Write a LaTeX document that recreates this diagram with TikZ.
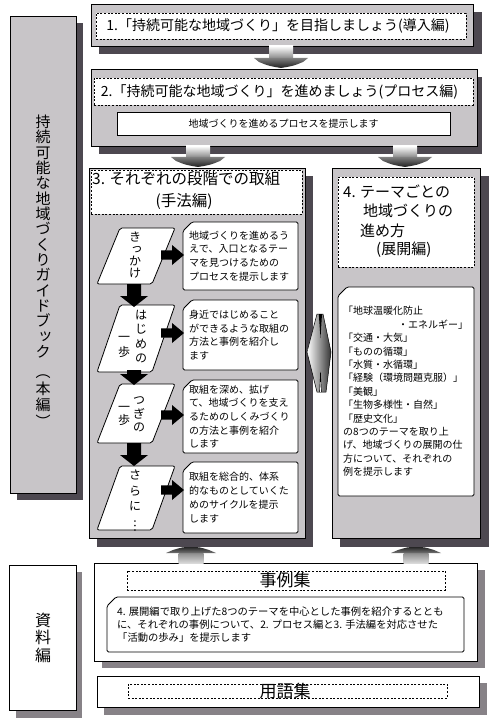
\documentclass[tikz,border=0pt]{standalone}
\usepackage{fontspec}
\usepackage{graphicx}
\setmainfont{Noto Sans CJK JP}
\usetikzlibrary{fit,calc}
\definecolor{boxgray}{HTML}{C8C5C8}
\definecolor{shdark}{HTML}{4D4850}
\definecolor{shmid}{HTML}{878287}
\newcommand\fsz[2]{\fontsize{#1}{#2}\selectfont}
% small kana in vertical position (shifted right and up)
\newcommand\sk[1]{\rlap{\hspace{0.16em}\raisebox{0.1em}{#1}}\phantom{#1}}
% vertical column of characters: name, x, y of first, step, size, list
\newcommand\vcol[6]{\foreach \c [count=\i] in {#6}{\node[inner sep=0pt,font=\fsz{#5}{#5},text height={0.88*#5pt},text depth={0.12*#5pt}] (#1-\i) at (#2,{#3+(\i-1)*#4}) {\c};}}
\newcommand\callout[4]{\draw[call] (#1,#2+9) -- (#1+9,#2) -- (#3,#2) -- (#3,#4) -- (#1,#4) -- cycle;}
\newcommand\parbx[2]{\draw[parsh] (120,#1) -- (175,#1) -- (152,#2) -- (97,#2) -- cycle;}
\newcommand\blkdn[2]{\fill (127,#1) -- (141,#1) -- (141,#2-11) -- (148,#2-11) -- (134,#2) -- (120,#2-11) -- (127,#2-11) -- cycle;}
\newcommand\blkrt[1]{\fill (161,#1-4.6) -- (172,#1-4.6) -- (172,#1-10) -- (184,#1) -- (172,#1+10) -- (172,#1+4.6) -- (161,#1+4.6) -- cycle;}
\newcommand\tdn[3]{%
  \shade[top color=white,bottom color=black!45] (#1-12,#2) rectangle (#1+12,#3-10);
  \shade[top color=black!50,bottom color=black!88] (#1-27,#3-10) -- (#1+27,#3-10) -- (#1+22,#3-6) .. controls (#1+12,#3-2) .. (#1,#3) .. controls (#1-12,#3-2) .. (#1-22,#3-6) -- cycle;}
\newcommand\tup[3]{%
  \shade[top color=black!45,bottom color=black!15] (#1-12.5,#2+6) rectangle (#1+12.5,#3);
  \shade[top color=black!85,bottom color=black!55] (#1-25,#2+6) -- (#1-18,#2+3) .. controls (#1-8,#2) .. (#1,#2) .. controls (#1+8,#2) .. (#1+18,#2+3) -- (#1+25,#2+6) -- cycle;}
\begin{document}
\begin{tikzpicture}[x=1pt,y=-1pt,
  gbox/.style={draw=black,line width=0.8pt,fill=boxgray,inner sep=0pt},
  wbox/.style={draw=black,line width=0.8pt,fill=white,inner sep=0pt},
  dbox/.style={draw=black,line width=0.6pt,dash pattern=on 2pt off 1.6pt,fill=white,inner sep=0pt},
  parsh/.style={draw=black,line width=0.8pt,fill=white,rounded corners=2pt},
  call/.style={draw=black,line width=0.8pt,fill=white,rounded corners=1.5pt},
  txt/.style={inner sep=0pt,align=left},
]
\fill[white] (0,0) rectangle (491,719);
\useasboundingbox (0,0) rectangle (491,719);
% shadows
\fill[shdark] (17,23) rectangle (83,500);
\fill[shdark] (99,12) rectangle (482,54);
\fill[shdark] (99,77) rectangle (482,154);
\fill[shdark] (97,176) rectangle (313,547);
\fill[shdark] (340,176) rectangle (489,547);
\fill[shmid] (16,572) rectangle (82,718);
\fill[shmid] (102,570) rectangle (485,668);
\fill[shmid] (104,683) rectangle (487,715);
% boxes
\node[gbox,fit={(10,16)(76,493)}] (L) {};
\node[gbox,fit={(91,4)(473,46)}] (B1) {};
\node[dbox,fit={(96,13)(466,39)}] (D1) {};
\node[gbox,fit={(91,69)(477,146)}] (B2) {};
\node[dbox,fit={(94,78)(473,105)}] (D2) {};
\node[wbox,fit={(117,112)(450,135)}] (W2) {};
\node[gbox,fit={(89,168)(305,538)}] (B3) {};
\node[dbox,fit={(91,170)(302,214)}] (D3) {};
\node[gbox,fit={(332,168)(480,538)}] (B4) {};
\node[dbox,fit={(338,177)(474,267)}] (D4) {};
\node[wbox,fit={(9,565)(76,710)}] (S) {};
\node[wbox,fit={(94,563)(477,661)}] (J) {};
\node[dbox,fit={(127,571)(445,590)}] (DJ) {};
\node[wbox,fit={(97,676)(479,707)}] (Y) {};
\node[dbox,fit={(128,684)(447,698)}] (DY) {};
% callouts
\callout{183}{222}{298}{290}
\callout{183}{300}{298}{370}
\callout{183}{380}{298}{453}
\callout{183}{462}{298}{533}
\callout{338}{287}{474}{496}
\callout{107}{597}{464}{652}
% parallelograms
\parbx{228}{284}
\parbx{305}{372}
\parbx{384}{443}
\parbx{466}{530}
% black arrows
\blkdn{284}{307}
\blkdn{370}{385}
\blkdn{443}{466}
\blkrt{255}
\blkrt{333}
\blkrt{415}
\blkrt{490}
% 3D arrows
\tdn{281}{46}{68}
\tdn{198}{146}{167}
\tdn{405}{146}{167}
\tup{191}{547}{563}
\tup{416}{547}{563}
% double arrow
\shade[left color=white,right color=black!80,draw=black,line width=0.5pt] (317,314) -- (307,352) -- (317,392) -- (326,392) -- (331,352) -- (323,314) -- cycle;
\fill[black] (318.8,314) -- (322,314) -- (320.5,338) -- cycle;
\draw[white,line width=1.2pt] (320.5,374) -- (320.5,392);
\draw[black,line width=0.4pt] (319.6,392) -- (320.5,372) -- (321.4,392);
% vertical texts
\vcol{lt}{43}{122}{15.3}{15}{持,続,可,能,な,地,域,づ,く,り,ガ,イ,ド,ブ,{\sk{ッ}},ク}
\vcol{lp}{43}{372}{16.5}{15}{︵,本,編,︶}
\vcol{sv}{43}{620}{17.5}{16}{資,料,編}
\vcol{pa}{135}{237}{12}{12}{き,{\sk{っ}},か,け}
\vcol{pb}{141}{315}{14.3}{12}{は,じ,め,の}
\vcol{pc}{124}{337}{15}{12}{一,歩}
\vcol{pd}{139}{400}{13.5}{12}{つ,ぎ,の}
\vcol{pe}{124}{407}{13}{12}{一,歩}
\vcol{pf}{135}{475}{15.7}{12}{さ,ら,に,{\rotatebox[origin=c]{-90}{…}}}
% horizontal texts
\node[txt,font=\fsz{14}{16}] (t1) at (278,26) {1.「持続可能な地域づくり」を目指しましょう(導入編)};
\node[txt,font=\fsz{14}{16}] (t2) at (279.5,91.5) {2.「持続可能な地域づくり」を進めましょう(プロセス編)};
\node[txt,font=\fsz{10}{12}] (t2s) at (283.5,123.5) {地域づくりを進めるプロセスを提示します};
\node[txt,font=\fsz{15.5}{18},anchor=west] (t3a) at (92,179) {3. それぞれの段階での取組};
\node[txt,font=\fsz{15.5}{18}] (t3b) at (184,202) {(手法編)};
\node[txt,font=\fsz{15}{18},anchor=west] (t4a) at (343,192) {4. テーマごとの};
\node[txt,font=\fsz{15}{18},anchor=west] (t4b) at (363,211) {地域づくりの};
\node[txt,font=\fsz{15}{18},anchor=west] (t4c) at (360,231) {進め方};
\node[txt,font=\fsz{15}{18},anchor=west] (t4d) at (376,250) {(展開編)};
\node[txt,font=\fsz{10}{13.7},anchor=west] (c1) at (189,256) {地域づくりを進めるう\\えで、入口となるテー\\マを見つけるための\\プロセスを提示します};
\node[txt,font=\fsz{10}{13.7},anchor=west] (c2) at (189,335) {身近ではじめること\\ができるような取組の\\方法と事例を紹介し\\ます};
\node[txt,font=\fsz{10}{13.7},anchor=west] (c3) at (189,416.5) {取組を深め、拡げ\\て、地域づくりを支え\\るためのしくみづくり\\の方法と事例を紹介\\します};
\node[txt,font=\fsz{10}{13.7},anchor=west] (c4) at (189,497.5) {取組を総合的、体系\\的なものとしていくた\\めのサイクルを提示\\します};
\node[txt,font=\fsz{10}{13.4},anchor=west] (c5) at (343,391.5) {「地球温暖化防止\\\hspace*{55pt}・エネルギー」\\「交通・大気」\\「ものの循環」\\「水質・水循環」\\「経験（環境問題克服）」\\「美観」\\「生物多様性・自然」\\「歴史文化」\\の8つのテーマを取り上\\げ、地域づくりの展開の仕\\方について、それぞれの\\例を提示します};
\node[txt,font=\fsz{10.3}{13},anchor=west] (c6) at (117,624.5) {4. 展開編で取り上げた8つのテーマを中心とした事例を紹介するととも\\に、それぞれの事例について、2. プロセス編と3. 手法編を対応させた\\「活動の歩み」を提示します};
\node[txt,font=\fsz{17}{19}] (tj) at (285,580) {事例集};
\node[txt,font=\fsz{17}{19}] (ty) at (285,691) {用語集};
\end{tikzpicture}
\end{document}
